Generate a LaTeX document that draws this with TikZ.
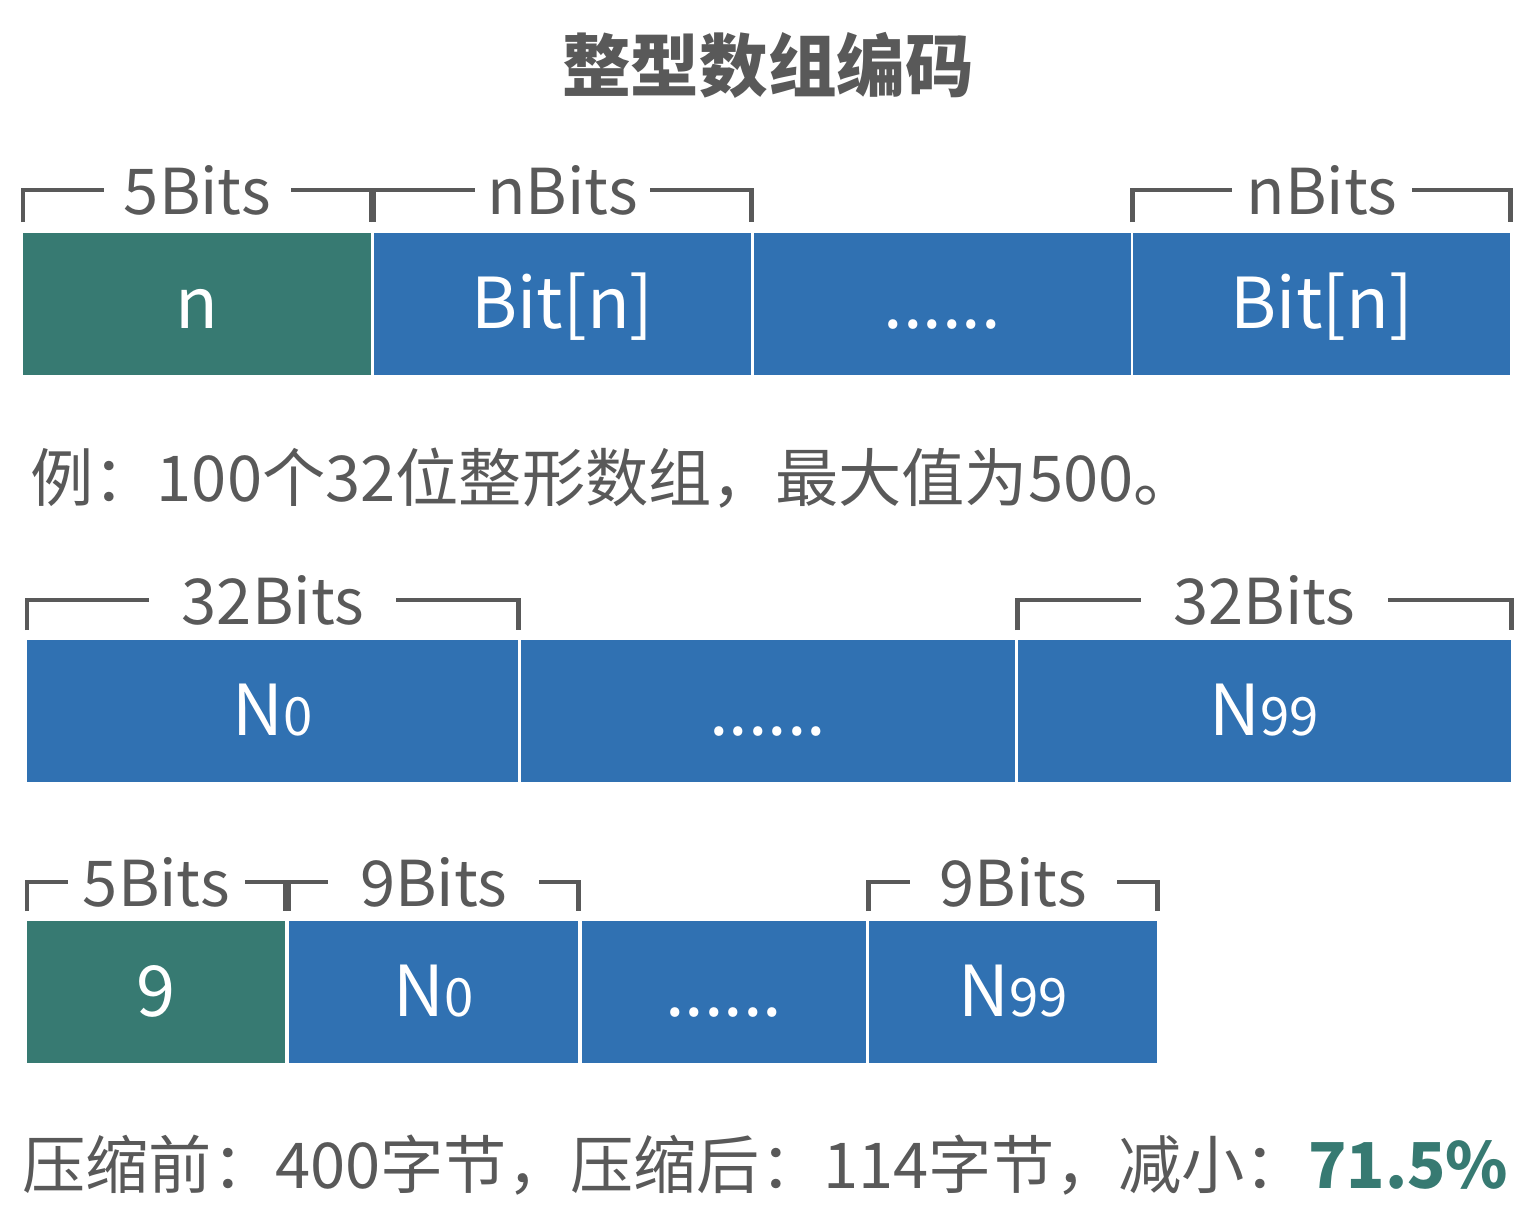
\documentclass[tikz,border=0pt]{standalone}
\usepackage{fontspec}
\setmainfont{Noto Sans CJK SC}
\usetikzlibrary{
    positioning,
}
\definecolor{cellteal}{HTML}{377A72}
\definecolor{cellblue}{HTML}{3071B2}
\definecolor{txtgrey}{HTML}{595959}

\begin{document}
\begin{tikzpicture}[
    x=0.02cm, y=-0.02cm,
    cell/.style={text=white, inner sep=0pt, minimum height=2.84cm, text height=0.96cm, text depth=0cm, anchor=north west, font=\fontsize{40}{40}\selectfont},
    headcell/.style={cell, fill=cellteal},
    bodycell/.style={cell, fill=cellblue},
    brk/.style={draw=txtgrey, line width=2.8pt},
    brklabel/.style={fill=white, text=txtgrey, inner xsep=0.4cm, inner ysep=0pt, font=\fontsize{36}{36}\selectfont},
    note/.style={text=txtgrey, anchor=west, inner sep=0pt, font=\fontsize{36}{36}\selectfont},
    ]

\useasboundingbox (0,0) rectangle (1540,1218);

\node[text=txtgrey, font=\fontsize{39}{39}\selectfont\bfseries] at (768,65) (title) {整型数组编码};

% general layout
\node[headcell, minimum width=6.96cm] at (23,233) (n) {n};
\node[bodycell, minimum width=7.54cm, right=0.04cm of n] (bita) {Bit[n]};
\node[bodycell, minimum width=7.54cm, right=0.04cm of bita] (dotsa) {......};
\node[bodycell, minimum width=7.54cm, right=0.04cm of dotsa] (bitb) {Bit[n]};

\draw[brk] ([yshift=0.22cm]n.north west) |- ([yshift=0.86cm]n.north east)
    node[pos=0.75, brklabel] (lfive) {5Bits} -- ([yshift=0.22cm]n.north east);
\draw[brk] ([yshift=0.22cm]bita.north west) |- ([yshift=0.86cm]bita.north east)
    node[pos=0.75, brklabel, inner xsep=0.25cm] (lna) {nBits} -- ([yshift=0.22cm]bita.north east);
\draw[brk] ([yshift=0.22cm]bitb.north west) |- ([yshift=0.86cm]bitb.north east)
    node[pos=0.75, brklabel, inner xsep=0.3cm] (lnb) {nBits} -- ([yshift=0.22cm]bitb.north east);

\node[note] at (30,478) (example) {例：100个32位整形数组，最大值为500。};

% plain 32 bit array
\node[bodycell, minimum width=9.82cm] at (27,640) (plaina) {N{\fontsize{30}{30}\selectfont 0}};
\node[bodycell, minimum width=9.88cm, right=0.04cm of plaina] (plaindots) {......};
\node[bodycell, minimum width=9.88cm, right=0.04cm of plaindots] (plainb) {N{\fontsize{30}{30}\selectfont 99}};

\draw[brk] ([yshift=0.2cm]plaina.north west) |- ([yshift=0.8cm]plaina.north east)
    node[pos=0.75, brklabel, inner xsep=0.65cm] (lpa) {32Bits} -- ([yshift=0.2cm]plaina.north east);
\draw[brk] ([yshift=0.2cm]plainb.north west) |- ([yshift=0.8cm]plainb.north east)
    node[pos=0.75, brklabel, inner xsep=0.65cm] (lpb) {32Bits} -- ([yshift=0.2cm]plainb.north east);

% packed 9 bit array
\node[headcell, minimum width=5.16cm] at (27,921) (nine) {9};
\node[bodycell, minimum width=5.78cm, right=0.06cm of nine] (packa) {N{\fontsize{30}{30}\selectfont 0}};
\node[bodycell, minimum width=5.68cm, right=0.06cm of packa] (packdots) {......};
\node[bodycell, minimum width=5.76cm, right=0.06cm of packdots] (packb) {N{\fontsize{30}{30}\selectfont 99}};

\draw[brk] ([yshift=0.2cm]nine.north west) |- ([yshift=0.78cm]nine.north east)
    node[pos=0.75, brklabel, inner xsep=0.3cm] (lhead) {5Bits} -- ([yshift=0.2cm]nine.north east);
\draw[brk] ([yshift=0.2cm]packa.north west) |- ([yshift=0.78cm]packa.north east)
    node[pos=0.75, brklabel, inner xsep=0.65cm] (lka) {9Bits} -- ([yshift=0.2cm]packa.north east);
\draw[brk] ([yshift=0.2cm]packb.north west) |- ([yshift=0.78cm]packb.north east)
    node[pos=0.75, brklabel, inner xsep=0.6cm] (lkb) {9Bits} -- ([yshift=0.2cm]packb.north east);

\node[note] at (22,1165) (result) {压缩前：400字节，压缩后：114字节，减小：\textcolor{cellteal}{\bfseries 71.5\%}};

\end{tikzpicture}
\end{document}
